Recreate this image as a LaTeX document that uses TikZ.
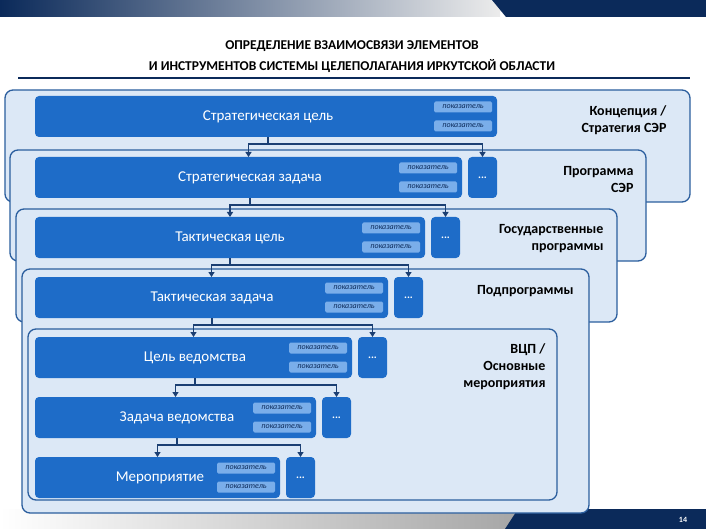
\documentclass[tikz,border=0pt]{standalone}
\usepackage{fontspec}
\setmainfont{Carlito}
\usetikzlibrary{arrows.meta}
\definecolor{boxb}{HTML}{1E6CC8}
\definecolor{tagb}{HTML}{7AAEEA}
\definecolor{contf}{HTML}{DCE8F6}
\definecolor{contd}{HTML}{2B5E9E}
\definecolor{navy}{HTML}{0B2A5A}
\definecolor{conn}{HTML}{1B3F73}
\tikzset{
 cont/.style={draw=contd,line width=1.3pt,fill=contf,rounded corners=8pt},
 blk/.style={fill=boxb,rounded corners=4pt,draw=none},
 tag/.style={fill=tagb,rounded corners=1.5pt,inner sep=0pt,minimum width=58pt,minimum height=11pt,font=\fontsize{8}{8}\selectfont\itshape,text=navy},
 btxt/.style={text=white,font=\fontsize{15}{15}\selectfont},
 lab/.style={font=\fontsize{14}{17}\selectfont\bfseries,align=right,anchor=east,text=black},
 cn/.style={draw=conn,line width=1.8pt},
 ar/.style={draw=conn,line width=1.8pt,-{Triangle[width=6pt,length=5pt]}}
}
\begin{document}
\begin{tikzpicture}[x=1pt,y=-1pt]
\useasboundingbox (0,0) rectangle (706,529);
\fill[white] (0,0) rectangle (706,529);
% banners
\shade[left color=navy,right color=white!85!gray] (0,0) rectangle (500,17);
\fill[navy] (492,0) -- (706,0) -- (706,17) -- (506,17) -- cycle;
\shade[left color=white,right color=gray!70] (0,509) rectangle (520,529);
\fill[navy] (505,529) -- (518,509) -- (706,509) -- (706,529) -- cycle;
\node[text=white,font=\fontsize{8}{8}\selectfont\bfseries] (pg) at (683,520) {14};
% title
\node[font=\fontsize{13.5}{21}\selectfont\bfseries,align=center] (title) at (352,57) {ОПРЕДЕЛЕНИЕ ВЗАИМОСВЯЗИ ЭЛЕМЕНТОВ\\И ИНСТРУМЕНТОВ СИСТЕМЫ ЦЕЛЕПОЛАГАНИЯ ИРКУТСКОЙ ОБЛАСТИ};
\draw[navy,line width=1.3pt] (18,78) -- (690,78);
% containers
\draw[cont] (5,90) rectangle (690,202);
\draw[cont] (10,150) rectangle (646,261);
\draw[cont] (16,209) rectangle (617,322);
\draw[cont] (22,269) rectangle (589,513);
\draw[cont] (28,329) rectangle (557,500);
% labels
\node[lab] (l1) at (670,120) {Концепция /\\Стратегия СЭР};
\node[lab] (l2) at (637,180) {Программа\\СЭР};
\node[lab] (l3) at (607,239) {Государственные\\программы};
\node[lab] (l4) at (577,291) {Подпрограммы};
\node[lab] (l5) at (549,367) {ВЦП /\\Основные\\мероприятия};
% rows
\newcommand\rowbox[6]{% name, top, right, textx, text, dots?
 \fill[blk] (35,#2) rectangle (#3,#2+41);
 \node[btxt] (#1) at (#4,#2+21) {#5};
 \node[tag] (#1t1) at (#3-34,#2+11) {показатель};
 \node[tag] (#1t2) at (#3-34,#2+30) {показатель};
 \coordinate (#1top) at ({(35+#3)/2},#2);
 \coordinate (#1bot) at (#4,#2+41);
 \ifx#61\fill[blk] (#3+6,#2) rectangle (#3+35,#2+41);
 \node[text=white,font=\fontsize{11}{11}\selectfont\bfseries] (#1d) at (#3+20.5,#2+21) {...};
 \coordinate (#1dtop) at (#3+20.5,#2);\fi
}
\rowbox{r1}{96}{497}{268}{Стратегическая цель}{0}
\rowbox{r2}{157}{462}{250}{Стратегическая задача}{1}
\rowbox{r3}{217}{425}{230}{Тактическая цель}{1}
\rowbox{r4}{277}{388}{212}{Тактическая задача}{1}
\rowbox{r5}{337}{352}{195}{Цель ведомства}{1}
\rowbox{r6}{397}{316}{177}{Задача ведомства}{1}
\rowbox{r7}{457}{280}{160}{Мероприятие}{1}
% connectors
\foreach \p/\c in {r1/r2,r2/r3,r3/r4,r4/r5,r5/r6,r6/r7}{
 \draw[cn] (\p bot) -- ++(0,7);
 \draw[ar] (\p bot) ++(0,7) -| (\c top);
 \draw[ar] (\p bot) ++(0,7) -| (\c dtop);
}
\end{tikzpicture}
\end{document}
